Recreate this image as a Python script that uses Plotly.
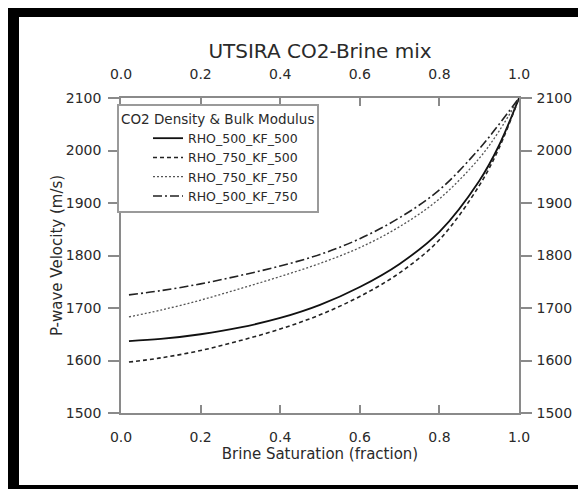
import plotly.graph_objects as go

# ---- data ----
brine_sat = [0.02, 0.1, 0.2, 0.3, 0.4, 0.5, 0.6, 0.7, 0.8, 0.9, 0.95, 1.0]
rho500_kf500 = [1637, 1641, 1650, 1663, 1681, 1706, 1740, 1784, 1845, 1942, 2010, 2100]
rho750_kf500 = [1597, 1605, 1619, 1638, 1660, 1687, 1722, 1767, 1830, 1933, 2005, 2100]
rho750_kf750 = [1683, 1696, 1715, 1737, 1760, 1785, 1815, 1855, 1908, 1985, 2037, 2100]
rho500_kf750 = [1725, 1733, 1746, 1762, 1780, 1802, 1832, 1872, 1925, 2003, 2050, 2100]

series_names = ["RHO_500_KF_500", "RHO_750_KF_500", "RHO_750_KF_750", "RHO_500_KF_750"]
x_ticks = [0.0, 0.2, 0.4, 0.6, 0.8, 1.0]
y_ticks = [1500, 1600, 1700, 1800, 1900, 2000, 2100]

FONT = "DejaVu Sans"
AXC = "#8a8a8a"
TXT = "#2a2a2a"

styles = [
    dict(color="#111111", width=1.8, dash="solid"),
    dict(color="#222222", width=1.6, dash="4px,3px"),
    dict(color="#555555", width=1.3, dash="2px,2px"),
    dict(color="#222222", width=1.6, dash="9px,3px,2px,3px"),
]
values = [rho500_kf500, rho750_kf500, rho750_kf750, rho500_kf750]
# first two curves on the bottom/left axes, last two on the top/right axes
# (both pairs share identical ranges, so all curves line up)
axes_pairs = [("x", "y"), ("x", "y"), ("x2", "y2"), ("x2", "y2")]

fig = go.Figure()
for name, vals, st, (xa, ya) in zip(series_names, values, styles, axes_pairs):
    fig.add_trace(go.Scatter(x=brine_sat, y=vals, mode="lines", name=name,
                             xaxis=xa, yaxis=ya,
                             line=dict(shape="spline", smoothing=1.0, **st)))

W, H = 586, 489
L, R, T, B = 113, 75, 90, 84
pw, ph = W - L - R, H - T - B


def px(xp):
    return (xp - L) / pw


def py(yp):
    return (H - B - yp) / ph


frame = [
    (0, 0, W, 9),        # top band
    (0, 0, 11, H),       # left band
    (0, 477, W, H),      # bottom band
    (577, 0, 579, H),    # right thin line
]
shapes = [dict(type="rect", xref="paper", yref="paper",
               x0=px(a), x1=px(c), y0=py(d), y1=py(b),
               fillcolor="black", line=dict(width=0), layer="above")
          for a, b, c, d in frame]

tickfont = dict(family=FONT, size=14, color=TXT)
common_x = dict(range=[0, 1], tickvals=x_ticks, tickformat=".1f", showline=True,
                linecolor=AXC, linewidth=1.5, ticks="inside", ticklen=8,
                tickcolor=AXC, tickwidth=1.5, showgrid=False, zeroline=False,
                tickfont=tickfont)
common_y = dict(range=[1500, 2100], tickvals=y_ticks, showline=True,
                linecolor=AXC, linewidth=1.5, ticks="outside", ticklen=11,
                tickcolor=AXC, tickwidth=1.5, showgrid=False, zeroline=False,
                tickfont=tickfont)

fig.update_layout(
    width=W, height=H,
    margin=dict(l=L, r=R, t=T, b=B, autoexpand=False),
    paper_bgcolor="white", plot_bgcolor="white",
    font=dict(family=FONT, color=TXT),
    title=dict(text="UTSIRA CO2-Brine mix", font=dict(family=FONT, size=20, color=TXT),
               x=0.5, xref="paper", xanchor="center", y=1 - 43 / H, yanchor="middle"),
    xaxis=dict(**common_x, side="bottom", ticklabelstandoff=10,
               title=dict(text="Brine Saturation (fraction)",
                          font=dict(family=FONT, size=15, color=TXT), standoff=4)),
    xaxis2=dict(**common_x, side="top", overlaying="x", anchor="y2",
                ticklabelstandoff=12),
    yaxis=dict(**common_y, side="left", ticklabelstandoff=4,
               title=dict(text="P-wave Velocity (m/s)",
                          font=dict(family=FONT, size=15, color=TXT), standoff=0)),
    yaxis2=dict(**common_y, side="right", overlaying="y", anchor="x2",
                ticklabelstandoff=2),
    legend=dict(x=px(109), y=py(96), xanchor="left", yanchor="top",
                bgcolor="white", bordercolor="#9a9a9a", borderwidth=2,
                font=dict(family=FONT, size=12.5, color=TXT),
                title=dict(text="CO2 Density & Bulk Modulus",
                           font=dict(family=FONT, size=13.5, color=TXT)),
                indentation=29, tracegroupgap=0),
    shapes=shapes,
    showlegend=True,
)

fig.write_html("out.html")
